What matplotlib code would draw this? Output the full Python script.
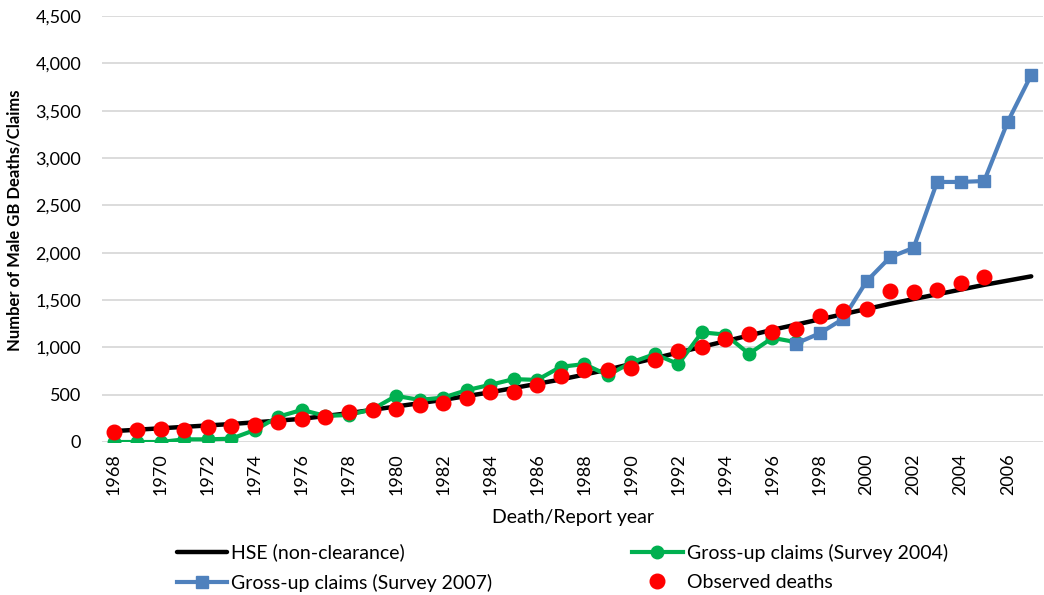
import matplotlib
matplotlib.use("Agg")
import matplotlib.pyplot as plt
from matplotlib.ticker import FuncFormatter, MultipleLocator

years = list(range(1968, 2008))

hse = [115, 130, 145, 160, 175, 190, 208, 226, 245, 275,
       305, 340, 375, 410, 445, 485, 525, 570, 615, 660,
       712, 765, 825, 885, 945, 1005, 1065, 1125, 1185, 1240,
       1295, 1350, 1405, 1460, 1510, 1560, 1610, 1660, 1705, 1750]

years_2004 = list(range(1968, 1998))
gross_2004 = [0, 0, 0, 28, 28, 35, 127, 268, 339, 275,
              286, 346, 487, 445, 469, 547, 604, 664, 656, 794,
              823, 706, 840, 929, 823, 1158, 1135, 932, 1100, 1055]

years_2007 = list(range(1997, 2008))
gross_2007 = [1040, 1147, 1300, 1698, 1952, 2051, 2747, 2747, 2757, 3382, 3877]

years_obs = list(range(1968, 2006))
observed = [109, 124, 138, 131, 159, 169, 175, 215, 247, 265,
            321, 336, 350, 390, 410, 469, 533, 530, 600, 699,
            759, 763, 777, 865, 957, 1006, 1093, 1141, 1165, 1193,
            1335, 1388, 1405, 1592, 1582, 1607, 1681, 1748]

FONT = ["Lato", "DejaVu Sans"]
plt.rcParams['font.family'] = FONT

W, H = 1044, 595
fig = plt.figure(figsize=(W / 100, H / 100), dpi=100)
ax = fig.add_axes([102 / W, 1 - 442 / H, (1043 - 102) / W, (442 - 16) / H])

h1, = ax.plot(years, hse, color="black", lw=3.2, solid_capstyle="round", zorder=3,
              label="HSE (non-clearance)")
h2, = ax.plot(years_2004, gross_2004, color="#00B050", lw=3.0, marker="o", ms=9,
              zorder=4, label="Gross-up claims (Survey 2004)")
h3, = ax.plot(years_2007, gross_2007, color="#4F81BD", lw=3.0, marker="s", ms=9,
              zorder=5, label="Gross-up claims (Survey 2007)")
h4, = ax.plot(years_obs, observed, color="#FF0000", lw=0, marker="o", ms=10.5,
              zorder=6, label="Observed deaths")

ax.set_xlim(1967.5, 2007.5)
ax.set_ylim(0, 4500)
ax.yaxis.set_major_locator(MultipleLocator(500))
ax.yaxis.set_major_formatter(FuncFormatter(lambda v, p: f"{int(v):,}"))
ax.set_xticks(list(range(1968, 2007, 2)))
ax.tick_params(axis="x", labelrotation=90, length=0, labelsize=13, pad=8)
ax.tick_params(axis="y", length=0, labelsize=13, pad=15)
ax.grid(axis="y", color="#D9D9D9", lw=1.3)
ax.set_axisbelow(True)
for s in ax.spines.values():
    s.set_visible(False)

ax.set_ylabel("Number of Male GB Deaths/Claims", fontsize=12, fontweight="bold")
ax.yaxis.label.set_va("center")
ax.yaxis.set_label_coords((15 - 102) / 941, (442 - 220) / 426)
ax.set_xlabel("Death/Report year", fontsize=14)
ax.xaxis.label.set_va("center")
ax.xaxis.set_label_coords(0.5, (442 - 518) / 426)

fig.legend(handles=[h1, h3, h2, h4], ncol=2, loc="upper left",
           bbox_to_anchor=(159 / W, 1 - 526 / H), frameon=False,
           fontsize=14, handlelength=2.6, columnspacing=7.2, labelspacing=0.62,
           handletextpad=0.2)

fig.savefig("out.png", dpi=100)
